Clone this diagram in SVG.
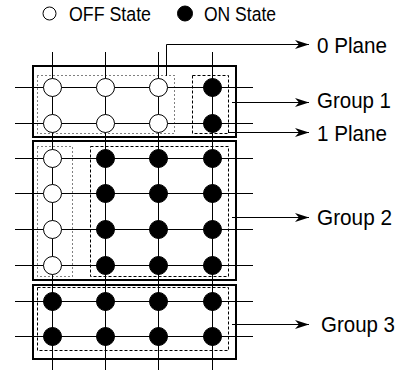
<svg xmlns="http://www.w3.org/2000/svg" width="402" height="373" viewBox="0 0 402 373">
  <style>
    .grid line { stroke: #000; stroke-width: 1; }
    .off { fill: #fff; stroke: #000; stroke-width: 1; }
    .on { fill: #000; stroke: #000; stroke-width: 1; }
    .frame { fill: none; stroke: #000; stroke-width: 2; }
    .dotted { fill: none; stroke: #000; stroke-width: 1; stroke-dasharray: 1 3; }
    .dashed { fill: none; stroke: #000; stroke-width: 1; stroke-dasharray: 3 2; }
    .conn { fill: none; stroke: #000; stroke-width: 1; marker-end: url(#arrow); }
    .label { font-family: "Liberation Sans", Arial, sans-serif; font-size: 22px; fill: #000; }
    .legend { font-family: "Liberation Sans", Arial, sans-serif; font-size: 20.5px; fill: #000; }
  </style>
  <defs>
    <marker id="arrow" viewBox="0 0 14 9" refX="14" refY="4.5" markerWidth="14" markerHeight="9" markerUnits="userSpaceOnUse" orient="auto">
      <path d="M0,0 L14,4.5 L0,9 L4,4.5 Z" fill="#000"/>
    </marker>
  </defs>

  <!-- legend -->
  <g id="legend">
    <circle cx="49.5" cy="13.5" r="6.5" class="off"/>
    <text x="69" y="20.5" class="legend" textLength="82" lengthAdjust="spacingAndGlyphs">OFF State</text>
    <circle cx="185" cy="13.5" r="7.5" class="on"/>
    <text x="204" y="20.5" class="legend" textLength="72" lengthAdjust="spacingAndGlyphs">ON State</text>
  </g>

  <!-- wire grid -->
  <g id="grid" class="grid">
    <line x1="52.5" y1="52" x2="52.5" y2="370"/>
    <line x1="105.5" y1="52" x2="105.5" y2="370"/>
    <line x1="158.5" y1="52" x2="158.5" y2="370"/>
    <line x1="212.5" y1="52" x2="212.5" y2="370"/>
    <line x1="15" y1="87.5" x2="253" y2="87.5"/>
    <line x1="15" y1="123.5" x2="253" y2="123.5"/>
    <line x1="15" y1="158.5" x2="253" y2="158.5"/>
    <line x1="15" y1="193.5" x2="253" y2="193.5"/>
    <line x1="15" y1="229.5" x2="253" y2="229.5"/>
    <line x1="15" y1="265.5" x2="253" y2="265.5"/>
    <line x1="15" y1="301.5" x2="253" y2="301.5"/>
    <line x1="15" y1="336.5" x2="253" y2="336.5"/>
  </g>

  <!-- group 1: two rows, 0 plane and 1 plane -->
  <g id="group1">
    <rect x="33" y="66" width="203" height="71" class="frame"/>
    <rect x="37.5" y="75.5" width="137" height="58" class="dotted"/>
    <rect x="192.5" y="75.5" width="36" height="58" class="dashed"/>
    <circle cx="52.5" cy="87.5" r="9" class="off"/>
    <circle cx="105.5" cy="87.5" r="9" class="off"/>
    <circle cx="158.5" cy="87.5" r="9" class="off"/>
    <circle cx="212.5" cy="87.5" r="9" class="on"/>
    <circle cx="52.5" cy="123.5" r="9" class="off"/>
    <circle cx="105.5" cy="123.5" r="9" class="off"/>
    <circle cx="158.5" cy="123.5" r="9" class="off"/>
    <circle cx="212.5" cy="123.5" r="9" class="on"/>
  </g>

  <!-- group 2: four rows -->
  <g id="group2">
    <rect x="33" y="141" width="203" height="139" class="frame"/>
    <rect x="37.5" y="146.5" width="35" height="130" class="dotted"/>
    <rect x="90.5" y="146.5" width="138" height="130" class="dashed"/>
    <circle cx="52.5" cy="158.5" r="9" class="off"/>
    <circle cx="105.5" cy="158.5" r="9" class="on"/>
    <circle cx="158.5" cy="158.5" r="9" class="on"/>
    <circle cx="212.5" cy="158.5" r="9" class="on"/>
    <circle cx="52.5" cy="193.5" r="9" class="off"/>
    <circle cx="105.5" cy="193.5" r="9" class="on"/>
    <circle cx="158.5" cy="193.5" r="9" class="on"/>
    <circle cx="212.5" cy="193.5" r="9" class="on"/>
    <circle cx="52.5" cy="229.5" r="9" class="off"/>
    <circle cx="105.5" cy="229.5" r="9" class="on"/>
    <circle cx="158.5" cy="229.5" r="9" class="on"/>
    <circle cx="212.5" cy="229.5" r="9" class="on"/>
    <circle cx="52.5" cy="265.5" r="9" class="off"/>
    <circle cx="105.5" cy="265.5" r="9" class="on"/>
    <circle cx="158.5" cy="265.5" r="9" class="on"/>
    <circle cx="212.5" cy="265.5" r="9" class="on"/>
  </g>

  <!-- group 3: two rows -->
  <g id="group3">
    <rect x="33" y="285" width="203" height="74" class="frame"/>
    <rect x="37.5" y="287.5" width="191" height="63" class="dashed"/>
    <circle cx="52.5" cy="301.5" r="9" class="on"/>
    <circle cx="105.5" cy="301.5" r="9" class="on"/>
    <circle cx="158.5" cy="301.5" r="9" class="on"/>
    <circle cx="212.5" cy="301.5" r="9" class="on"/>
    <circle cx="52.5" cy="336.5" r="9" class="on"/>
    <circle cx="105.5" cy="336.5" r="9" class="on"/>
    <circle cx="158.5" cy="336.5" r="9" class="on"/>
    <circle cx="212.5" cy="336.5" r="9" class="on"/>
  </g>

  <!-- callout arrows -->
  <g id="connectors">
    <polyline points="166.5,76 166.5,44.5 309,44.5" class="conn"/>
    <line x1="232" y1="102.5" x2="309" y2="102.5" class="conn"/>
    <line x1="228" y1="132.5" x2="309" y2="132.5" class="conn"/>
    <line x1="232" y1="217.5" x2="309" y2="217.5" class="conn"/>
    <line x1="232" y1="324.5" x2="309" y2="324.5" class="conn"/>
  </g>

  <!-- callout labels -->
  <g id="labels">
    <text x="317" y="53" class="label" textLength="70" lengthAdjust="spacingAndGlyphs">0 Plane</text>
    <text x="317" y="108" class="label" textLength="74" lengthAdjust="spacingAndGlyphs">Group 1</text>
    <text x="317" y="141" class="label" textLength="70" lengthAdjust="spacingAndGlyphs">1 Plane</text>
    <text x="317" y="225" class="label" textLength="75" lengthAdjust="spacingAndGlyphs">Group 2</text>
    <text x="321" y="332" class="label" textLength="74" lengthAdjust="spacingAndGlyphs">Group 3</text>
  </g>
</svg>
